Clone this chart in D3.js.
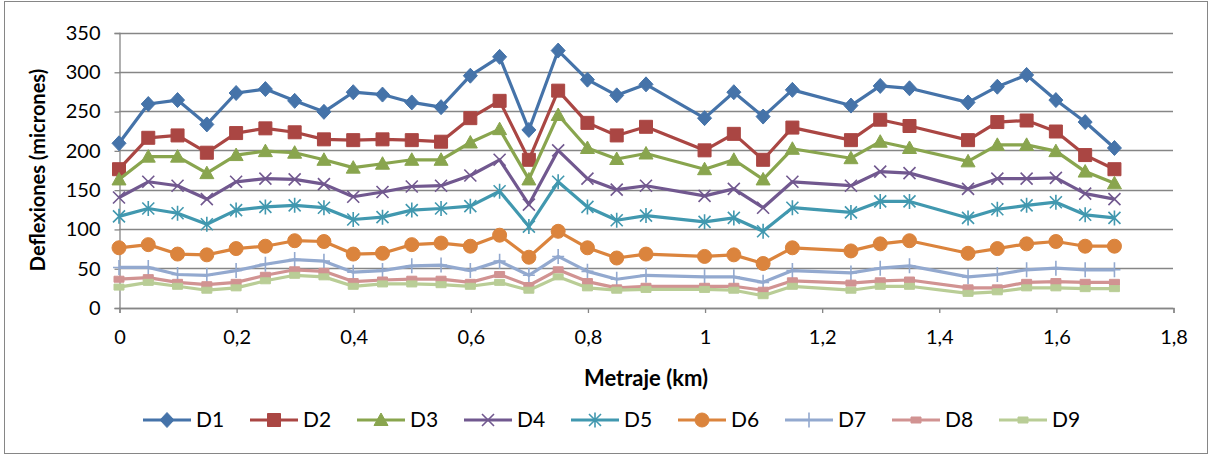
<!DOCTYPE html>
<html>
<head>
<meta charset="utf-8">
<script src="https://cdn.jsdelivr.net/npm/d3@7"></script>
<style>
  html, body { margin: 0; padding: 0; background: #fff; }
  svg text { font-family: Lato, "Noto Sans", sans-serif; fill: #000; }
</style>
</head>
<body>
<svg id="chart" width="1212" height="456"></svg>
<script>
// Distance along the road (km)
const metraje = [0, 0.05, 0.1, 0.15, 0.2, 0.25, 0.3, 0.35, 0.4, 0.45, 0.5, 0.55, 0.6, 0.65, 0.7, 0.75,
  0.8, 0.85, 0.9, 1.0, 1.05, 1.1, 1.15, 1.25, 1.3, 1.35, 1.45, 1.5, 1.55, 1.6, 1.65, 1.7];

// Deflections per geophone (microns)
const D1 = [209, 259, 264, 233, 273, 278, 263, 249, 274, 271, 261, 255, 295, 319, 226, 327,
  290, 270, 284, 241, 274, 243, 277, 257, 282, 279, 261, 281, 296, 264, 236, 203];
const D2 = [176, 216, 219, 197, 222, 228, 223, 214, 213, 214, 213, 211, 241, 263, 188, 276,
  235, 219, 230, 200, 221, 188, 229, 213, 239, 231, 213, 236, 238, 224, 194, 176];
const D3 = [163, 192, 192, 171, 194, 199, 197, 188, 178, 183, 188, 188, 210, 227, 163, 245,
  203, 189, 196, 176, 188, 163, 202, 190, 211, 203, 186, 207, 207, 199, 173, 158];
const D4 = [140, 160, 155, 138, 160, 164, 163, 157, 141, 147, 154, 155, 168, 188, 131, 200,
  164, 150, 155, 142, 151, 127, 160, 155, 173, 171, 151, 164, 164, 165, 145, 138];
const D5 = [116, 126, 120, 106, 124, 128, 130, 127, 112, 115, 124, 126, 129, 148, 103, 160,
  128, 111, 117, 109, 114, 97, 127, 121, 135, 135, 114, 125, 130, 134, 118, 114];
const D6 = [76, 80, 68, 67, 75, 78, 85, 84, 68, 69, 80, 82, 78, 92, 64, 97,
  76, 63, 68, 65, 67, 56, 76, 72, 81, 85, 69, 75, 81, 84, 78, 78];
const D7 = [51, 51, 42, 41, 47, 55, 61, 59, 45, 47, 53, 54, 47, 59, 41, 65,
  46, 36, 41, 39, 39, 32, 47, 44, 50, 53, 39, 42, 48, 50, 48, 48];
const D8 = [36, 38, 32, 29, 32, 41, 48, 46, 33, 35, 36, 36, 32, 42, 28, 48,
  33, 25, 27, 27, 27, 22, 34, 31, 34, 35, 25, 25, 32, 33, 32, 32];
const D9 = [26, 32, 27, 22, 25, 34, 41, 39, 27, 30, 30, 29, 27, 32, 22, 39,
  25, 22, 23, 23, 22, 15, 27, 22, 27, 27, 18, 20, 25, 25, 24, 24];

const seriesNames = ["D1", "D2", "D3", "D4", "D5", "D6", "D7", "D8", "D9"];
const seriesValues = [D1, D2, D3, D4, D5, D6, D7, D8, D9];
const seriesColors = ["#4573A9", "#AA4643", "#89A54E", "#71588F", "#4198AF", "#DB843D", "#93A9CF", "#D19392", "#B9CD96"];
const seriesMarkers = ["diamond", "square", "triangle", "x", "star", "circle", "plus", "dash", "dash"];

const xTicks = [0, 0.2, 0.4, 0.6, 0.8, 1, 1.2, 1.4, 1.6, 1.8];
const yTicks = [0, 50, 100, 150, 200, 250, 300, 350];

const svg = d3.select("#chart");
const W = 1212, H = 456;
const plot = { left: 119, right: 1173, top: 32.5, bottom: 307.5 };

// Chart area border
svg.append("rect")
  .attr("x", 4.5).attr("y", 1.5).attr("width", W - 9).attr("height", H - 4)
  .attr("fill", "#fff").attr("stroke", "#868686").attr("stroke-width", 1);

const x = d3.scaleLinear().domain([0, 1.8]).range([plot.left, plot.right]);
const y = d3.scaleLinear().domain([0, 350]).range([plot.bottom, plot.top]);

// Horizontal gridlines
svg.append("g")
  .selectAll("line")
  .data(yTicks)
  .join("line")
  .attr("x1", plot.left).attr("x2", plot.right)
  .attr("y1", d => Math.round(y(d)) + 0.5).attr("y2", d => Math.round(y(d)) + 0.5)
  .attr("stroke", "#868686").attr("stroke-width", 1.3);

const fmt = d => d3.format("")(d).replace(".", ",");

// Y axis
const yAxis = svg.append("g")
  .attr("transform", `translate(${plot.left + 0.5},0.5)`)
  .call(d3.axisLeft(y).tickValues(yTicks).tickSize(5).tickPadding(14).tickFormat(d => d));
yAxis.select(".domain").attr("stroke", "#868686").attr("stroke-width", 1.3);
yAxis.selectAll(".tick line").attr("stroke", "#868686").attr("stroke-width", 1.3);
yAxis.selectAll("text").attr("font-size", 20).attr("fill", "#000");

// X axis
const xAxis = svg.append("g")
  .attr("transform", `translate(0.5,${plot.bottom + 0.5})`)
  .call(d3.axisBottom(x).tickValues(xTicks).tickSize(5).tickPadding(17).tickFormat(fmt));
xAxis.select(".domain").attr("stroke", "#868686").attr("stroke-width", 1.3);
xAxis.selectAll(".tick line").attr("stroke", "#868686").attr("stroke-width", 1.3);
xAxis.selectAll("text").attr("font-size", 20).attr("fill", "#000");

// Axis titles
svg.append("text")
  .attr("x", 646).attr("y", 386)
  .attr("text-anchor", "middle")
  .attr("font-size", 22).attr("font-weight", "bold")
  .text("Metraje (km)");

svg.append("text")
  .attr("transform", `translate(45,${(plot.top + plot.bottom) / 2}) rotate(-90)`)
  .attr("text-anchor", "middle")
  .attr("font-size", 20).attr("font-weight", "bold")
  .text("Deflexiones (micrones)");

// Marker shapes
function markerPath(kind) {
  switch (kind) {
    case "diamond": return "M0,-7.5L7,0L0,7.5L-7,0Z";
    case "square": return "M-6.5,-6.5H6.5V6.5H-6.5Z";
    case "triangle": return "M0,-7L7,5.5H-7Z";
    case "circle": return d3.symbol(d3.symbolCircle, Math.PI * 49)();
    case "x": return "M-6,-6L6,6M-6,6L6,-6";
    case "star": return "M-6,-6L6,6M-6,6L6,-6M0,-7.5L0,7.5";
    case "plus": return "M-6,0L6,0M0,-7.5L0,7.5";
    case "dash": return "M-5,-3H5V3H-5Z";
  }
}
const strokeOnly = k => k === "x" || k === "star" || k === "plus";

const line = d3.line().x(d => x(d[0])).y(d => y(d[1]));

seriesNames.forEach((name, i) => {
  const pts = metraje.map((m, j) => [m, seriesValues[i][j]]);
  const g = svg.append("g");
  g.append("path")
    .attr("d", line(pts))
    .attr("fill", "none")
    .attr("stroke", seriesColors[i])
    .attr("stroke-width", 3.2)
    .attr("stroke-linejoin", "round");
  const kind = seriesMarkers[i];
  g.selectAll("path.mk")
    .data(pts)
    .join("path")
    .attr("class", "mk")
    .attr("transform", d => `translate(${x(d[0])},${y(d[1])})`)
    .attr("d", markerPath(kind))
    .attr("fill", strokeOnly(kind) ? "none" : seriesColors[i])
    .attr("stroke", seriesColors[i])
    .attr("stroke-width", strokeOnly(kind) ? 1.6 : 1);
});

// Legend
const legend = svg.append("g");
seriesNames.forEach((name, i) => {
  const cx = 167 + i * 107;
  const cy = 420;
  const kind = seriesMarkers[i];
  legend.append("line")
    .attr("x1", cx - 24).attr("x2", cx + 24)
    .attr("y1", cy).attr("y2", cy)
    .attr("stroke", seriesColors[i]).attr("stroke-width", 3.2);
  legend.append("path")
    .attr("transform", `translate(${cx},${cy})`)
    .attr("d", markerPath(kind))
    .attr("fill", strokeOnly(kind) ? "none" : seriesColors[i])
    .attr("stroke", seriesColors[i])
    .attr("stroke-width", strokeOnly(kind) ? 1.6 : 1);
  legend.append("text")
    .attr("x", cx + 29).attr("y", cy + 7)
    .attr("font-size", 21)
    .text(name);
});
</script>
</body>
</html>
